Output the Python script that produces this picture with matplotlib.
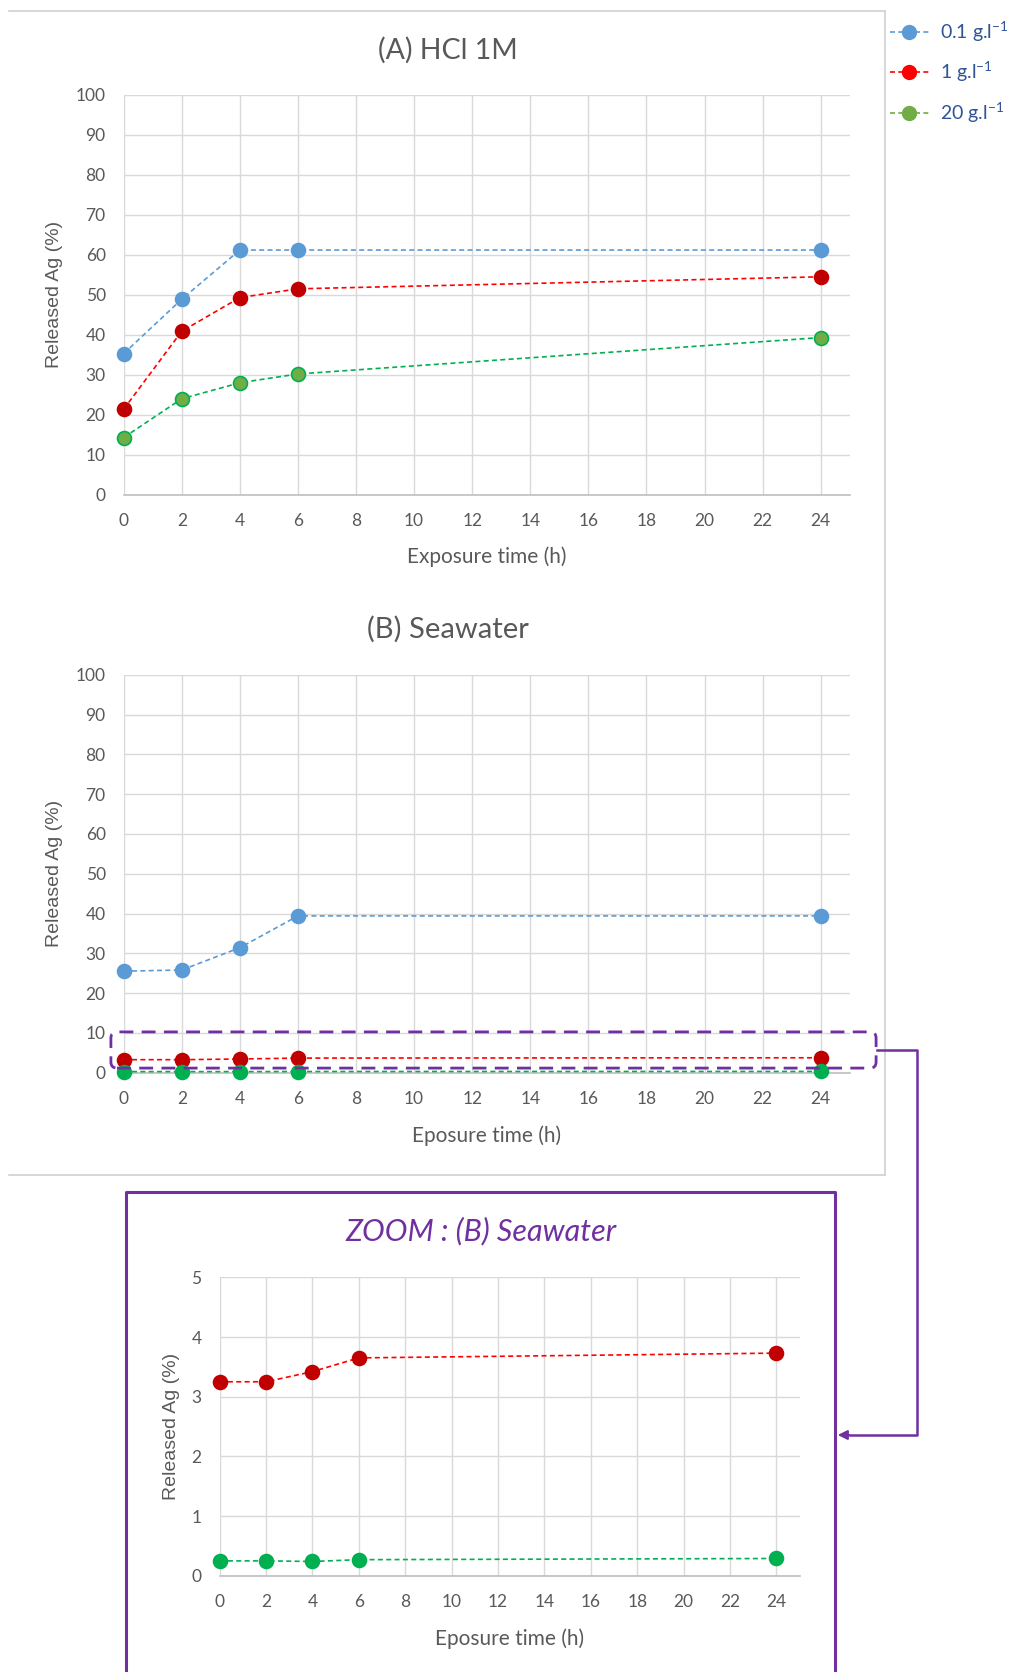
import matplotlib
matplotlib.use("Agg")
import matplotlib.pyplot as plt
from matplotlib.lines import Line2D
from matplotlib.patches import FancyBboxPatch, FancyArrowPatch

# ---------------- data ----------------
time_h = [0, 2, 4, 6, 24]
hcl_01 = [35.3, 48.9, 61.2, 61.2, 61.2]
hcl_1 = [21.4, 40.9, 49.3, 51.5, 54.5]
hcl_20 = [14.3, 24.0, 28.0, 30.2, 39.3]
sea_01 = [25.5, 25.8, 31.4, 39.4, 39.4]
sea_1 = [3.25, 3.25, 3.42, 3.65, 3.73]
sea_20 = [0.25, 0.25, 0.24, 0.27, 0.29]
x_ticks = list(range(0, 25, 2))
y_ticks_main = list(range(0, 101, 10))
y_ticks_zoom = [0, 1, 2, 3, 4, 5]
legend_labels = [r"0.1 g.l$^{\mathregular{-1}}$", r"1 g.l$^{\mathregular{-1}}$",
                 r"20 g.l$^{\mathregular{-1}}$"]
titles = ["(A) HCl 1M", "(B) Seawater", "ZOOM : (B) Seawater"]

W, H = 1015, 1672
DPI = 100
fig = plt.figure(figsize=(W / DPI, H / DPI), dpi=DPI)
plt.rcParams['mathtext.fontset'] = 'custom'
plt.rcParams['mathtext.rm'] = 'Lato'

FONT = "Lato"
GRAY_TXT = "#595959"
GRID = "#D9D9D9"
PURPLE = "#7030A0"
BLUE = "#5B9BD5"
DARKRED = "#C00000"
RED = "#FF0000"
GREEN = "#00B050"
LGREEN = "#70AD47"


def fx(px):
    return px / W


def fy(py):
    return 1 - py / H


def make_axes(left, top, right, bottom):
    return fig.add_axes([fx(left), fy(bottom), fx(right) - fx(left), (bottom - top) / H])


def style_axes(ax, yticks, ylim, xlabel, xlab_off, ylab_off):
    ax.set_xlim(0, 25)
    ax.set_ylim(*ylim)
    ax.set_xticks(x_ticks)
    ax.set_yticks(yticks)
    ax.set_xticklabels([str(t) for t in x_ticks], fontsize=12.5, color=GRAY_TXT, family=FONT)
    ax.set_yticklabels([str(t) for t in yticks], fontsize=12.5, color=GRAY_TXT, family=FONT)
    ax.tick_params(length=0, pad=13)
    ax.grid(True, color=GRID, linewidth=1.0)
    ax.set_axisbelow(True)
    for s in ["left", "right", "top"]:
        ax.spines[s].set_visible(False)
    ax.spines["bottom"].set_color("#BFBFBF")
    ax.spines["bottom"].set_linewidth(1.2)
    ax.set_xlabel(xlabel, fontsize=15, color=GRAY_TXT, family=FONT)
    ax.xaxis.set_label_coords(0.5, xlab_off)
    ax.set_ylabel("Released Ag (%)", fontsize=14, color=GRAY_TXT, family="Liberation Sans")
    ax.yaxis.set_label_coords(ylab_off, 0.5)


def series(ax, y, line_c, face_c, edge_c):
    ax.plot(time_h, y, linestyle=(0, (3, 2)), linewidth=1.2, color=line_c,
            marker="o", markersize=10, markerfacecolor=face_c, markeredgecolor=edge_c,
            markeredgewidth=1.2, clip_on=False, zorder=3)


# ---------- Panel A ----------
axA = make_axes(123.7, 94.9, 849.7, 494.7)
style_axes(axA, y_ticks_main, (0, 100), "Exposure time (h)", -0.130, -0.084)
series(axA, hcl_01, BLUE, BLUE, BLUE)
series(axA, hcl_1, RED, DARKRED, DARKRED)
series(axA, hcl_20, GREEN, LGREEN, GREEN)

# ---------- Panel B ----------
axB = make_axes(123.7, 674.9, 849.7, 1072.6)
style_axes(axB, y_ticks_main, (0, 100), "Eposure time (h)", -0.133, -0.084)
series(axB, sea_01, BLUE, BLUE, BLUE)
series(axB, sea_1, RED, DARKRED, DARKRED)
series(axB, sea_20, GREEN, GREEN, GREEN)

# ---------- Zoom panel ----------
axZ = make_axes(219.6, 1277.3, 799.6, 1575.8)
style_axes(axZ, y_ticks_zoom, (0, 5), "Eposure time (h)", -0.176, -0.068)
series(axZ, sea_1, RED, DARKRED, DARKRED)
series(axZ, sea_20, GREEN, GREEN, GREEN)

# ---------- titles ----------
fig.text(fx(448), fy(50), titles[0], fontsize=20.5, color=GRAY_TXT, family=FONT,
         ha="center", va="center")
fig.text(fx(448), fy(629), titles[1], fontsize=21, color=GRAY_TXT, family=FONT,
         ha="center", va="center")
fig.text(fx(481), fy(1231), titles[2], fontsize=22, color=PURPLE, family=FONT,
         style="italic", ha="center", va="center")

# ---------- chart area border ----------
bc = "#D0D0D0"
fig.add_artist(Line2D([fx(9), fx(885)], [fy(11), fy(11)], color=bc, lw=1.2))
fig.add_artist(Line2D([fx(885), fx(885)], [fy(11), fy(1175)], color=bc, lw=1.2))
fig.add_artist(Line2D([fx(9), fx(885)], [fy(1175), fy(1175)], color=bc, lw=1.2))

# ---------- purple zoom box ----------
fig.add_artist(Line2D([fx(126), fx(126), fx(835), fx(835)],
                      [fy(H + 5), fy(1192), fy(1192), fy(H + 5)],
                      color=PURPLE, lw=2.2))

# ---------- dashed rounded highlight in panel B ----------
box = FancyBboxPatch((fx(117), fy(1062)), fx(876 - 123), (1062 - 1038) / H,
                     boxstyle="round,pad=0.006,rounding_size=0.006",
                     transform=fig.transFigure, fill=False, edgecolor=PURPLE,
                     linewidth=2.0, linestyle=(0, (5, 3)), mutation_aspect=W / H)
fig.add_artist(box)

# ---------- connector arrow ----------
fig.add_artist(Line2D([fx(877), fx(917), fx(917), fx(850)],
                      [fy(1050), fy(1050), fy(1435), fy(1435)],
                      color=PURPLE, lw=1.8))
arr = FancyArrowPatch((fx(852), fy(1435)), (fx(835), fy(1435)),
                      transform=fig.transFigure, arrowstyle="-|>",
                      mutation_scale=14, color=PURPLE, lw=1.5)
fig.add_artist(arr)

# ---------- legend ----------
handles = [
    Line2D([0], [0], color=BLUE, linestyle=(0, (3, 2)), lw=1.2, marker="o",
           markersize=10, markerfacecolor=BLUE, markeredgecolor=BLUE),
    Line2D([0], [0], color=RED, linestyle=(0, (3, 2)), lw=1.2, marker="o",
           markersize=10, markerfacecolor=RED, markeredgecolor=RED),
    Line2D([0], [0], color=LGREEN, linestyle=(0, (3, 2)), lw=1.2, marker="o",
           markersize=10, markerfacecolor=LGREEN, markeredgecolor=LGREEN),
]
leg = fig.legend(handles, legend_labels, loc="upper left",
                 bbox_to_anchor=(fx(886), fy(15)), frameon=False,
                 prop={"family": FONT, "size": 14}, labelcolor="#2F5597",
                 handlelength=2.0, handletextpad=0.6, labelspacing=0.8,
                 borderpad=0.2, borderaxespad=0.0, numpoints=1)

fig.savefig("out.png", dpi=DPI, facecolor="white")
